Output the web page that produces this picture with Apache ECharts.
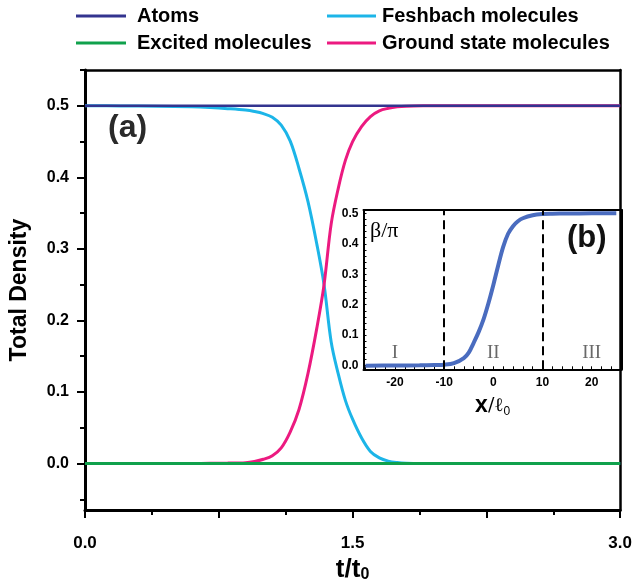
<!DOCTYPE html>
<html>
<head>
<meta charset="utf-8">
<script src="https://cdn.jsdelivr.net/npm/echarts@6/dist/echarts.min.js"></script>
<style>
html,body{margin:0;padding:0;background:#fff;}
#chart{width:635px;height:588px;}
</style>
</head>
<body>
<div id="chart"></div>
<script>
// ---- Main panel (a) data ----
var time      = [0, 0.2, 0.4, 0.6, 0.7, 0.8, 0.9, 0.95, 1.0, 1.05, 1.1, 1.15, 1.2, 1.25, 1.3, 1.34, 1.38, 1.42, 1.46, 1.5, 1.55, 1.6, 1.65, 1.7, 1.75, 1.8, 1.9, 2.0, 2.5, 3.0];
var atoms     = [0.5, 0.5, 0.5, 0.5, 0.5, 0.5, 0.5, 0.5, 0.5, 0.5, 0.5, 0.5, 0.5, 0.5, 0.5, 0.5, 0.5, 0.5, 0.5, 0.5, 0.5, 0.5, 0.5, 0.5, 0.5, 0.5, 0.5, 0.5, 0.5, 0.5];
var excited   = [0, 0, 0, 0, 0, 0, 0, 0, 0, 0, 0, 0, 0, 0, 0, 0, 0, 0, 0, 0, 0, 0, 0, 0, 0, 0, 0, 0, 0, 0];
var feshbach  = [0.5, 0.4998, 0.4995, 0.4985, 0.4975, 0.496, 0.494, 0.492, 0.489, 0.484, 0.473, 0.451, 0.412, 0.366, 0.306, 0.25, 0.17, 0.125, 0.088, 0.062, 0.036, 0.017, 0.008, 0.0035, 0.0015, 0.0006, 0.0001, 0, 0, 0];
var ground    = [0, 0, 0, 0.0002, 0.0004, 0.0007, 0.0013, 0.003, 0.006, 0.011, 0.022, 0.044, 0.076, 0.126, 0.19, 0.25, 0.335, 0.385, 0.424, 0.45, 0.471, 0.485, 0.493, 0.4965, 0.4985, 0.4994, 0.4999, 0.5, 0.5, 0.5];
var seriesNames = ['Atoms', 'Excited molecules', 'Feshbach molecules', 'Ground state molecules'];
var xLabelTicks = [0, 1.5, 3.0];
var yLabelTicks = [0, 0.1, 0.2, 0.3, 0.4, 0.5];
var yMinorTicks = [-0.05, 0.05, 0.15, 0.25, 0.35, 0.45, 0.55];

// ---- Inset panel (b) data ----
var insetX    = [-26, -20, -15, -12, -10, -8, -6, -5, -4, -3, -2, -1, 0, 1, 2, 3, 4, 5, 6, 8, 10, 12, 15, 20, 25];
var insetBeta = [0, 0.0004, 0.001, 0.002, 0.003, 0.008, 0.025, 0.043, 0.075, 0.11, 0.152, 0.205, 0.265, 0.33, 0.39, 0.433, 0.458, 0.474, 0.484, 0.494, 0.498, 0.499, 0.4995, 0.5, 0.5];
var insetXLabels = [-20, -10, 0, 10, 20];
var insetXTicks  = [-26, -24, -22, -20, -18, -16, -14, -12, -10, -8, -6, -4, -2, 0, 2, 4, 6, 8, 10, 12, 14, 16, 18, 20, 22, 24, 26];
var insetYLabels = [0, 0.1, 0.2, 0.3, 0.4, 0.5];
var insetYTicks  = [0, 0.02, 0.04, 0.06, 0.08, 0.1, 0.12, 0.14, 0.16, 0.18, 0.2, 0.22, 0.24, 0.26, 0.28, 0.3, 0.32, 0.34, 0.36, 0.38, 0.4, 0.42, 0.44, 0.46, 0.48, 0.5];
var regionBounds = [-10, 10];
var regionNames  = ['I', 'II', 'III'];
var regionX      = [-20, 0, 20];
var regionY      = [0.042, 0.042, 0.042];

function pairs(xs, ys) { return xs.map(function (x, i) { return [x, ys[i]]; }); }

var colors = { atoms: '#33348f', excited: '#10a14c', feshbach: '#1cb5e8', ground: '#ec1a80', inset: '#4a6cbf' };
var FONT = 'Liberation Sans, Arial, sans-serif';

var chart = echarts.init(document.getElementById('chart'), null, { renderer: 'canvas' });

function frameAxis(grid, pos, w) {
  return { gridIndex: grid, type: 'value', position: pos, axisLine: { show: true, onZero: false, lineStyle: { color: '#000', width: w } },
           axisTick: { show: false }, axisLabel: { show: false }, splitLine: { show: false } };
}

var option = {
  backgroundColor: '#fff',
  animation: false,
  textStyle: { fontFamily: FONT },
  legend: [
    { data: [seriesNames[0], seriesNames[1]], left: 76, top: 6, orient: 'vertical', padding: 0, itemGap: 7,
      icon: 'rect', itemWidth: 50, itemHeight: 3,
      textStyle: { fontSize: 20, fontWeight: 'bold', color: '#000', fontFamily: FONT, lineHeight: 20, padding: [0, 0, 0, 6] } },
    { data: [seriesNames[2], seriesNames[3]], left: 327, top: 6, orient: 'vertical', padding: 0, itemGap: 7,
      icon: 'rect', itemWidth: 49, itemHeight: 3,
      textStyle: { fontSize: 20, fontWeight: 'bold', color: '#000', fontFamily: FONT, lineHeight: 20, padding: [0, 0, 0, 1] } }
  ],
  grid: [
    { left: 84, right: 8, top: 70, bottom: 68 },
    { left: 363.5, right: 13.3, top: 210, bottom: 218.7 }
  ],
  xAxis: [
    { gridIndex: 0, type: 'value', min: 0, max: 3, interval: 0.75, position: 'bottom',
      axisLine: { show: true, onZero: false, lineStyle: { color: '#000', width: 3 } },
      axisTick: { show: true, length: 8, lineStyle: { color: '#000', width: 2 } },
      minorTick: { show: true, splitNumber: 2, length: 5, lineStyle: { color: '#000', width: 2 } },
      axisLabel: { customValues: xLabelTicks, margin: 25, fontSize: 17, fontWeight: 'bold', color: '#000', fontFamily: FONT,
                   formatter: function (v) { return v.toFixed(1); } },
      splitLine: { show: false },
      name: '{b|t/t}{s|0}', nameLocation: 'middle', nameGap: 45,
      nameTextStyle: { rich: { b: { fontSize: 26, fontWeight: 'bold', color: '#000', fontFamily: FONT },
                               s: { fontSize: 16, fontWeight: 'bold', color: '#000', fontFamily: FONT, verticalAlign: 'bottom', padding: [10, 0, 0, 0] } } } },
    frameAxis(0, 'top', 2.5),
    { gridIndex: 1, type: 'value', min: -26.4, max: 26.1, position: 'bottom',
      axisLine: { show: true, onZero: false, lineStyle: { color: '#000', width: 2 } },
      axisTick: { show: true, inside: true, length: 3, customValues: insetXTicks, lineStyle: { color: '#000', width: 1 } },
      axisLabel: { customValues: insetXLabels, margin: 7, fontSize: 12, fontWeight: 'bold', color: '#000', fontFamily: FONT },
      splitLine: { show: false },
      name: '{x|x}{r|/ℓ}{s|0}', nameLocation: 'middle', nameGap: 25,
      nameTextStyle: { rich: { x: { fontSize: 23, fontWeight: 'bold', color: '#000', fontFamily: FONT },
                               r: { fontSize: 19, color: '#000', fontFamily: 'DejaVu Serif, serif' },
                               s: { fontSize: 12, color: '#000', fontFamily: FONT, verticalAlign: 'bottom', padding: [8, 0, 0, 0] } } } },
    frameAxis(1, 'top', 2)
  ],
  yAxis: [
    { gridIndex: 0, type: 'value', min: -0.065, max: 0.55, position: 'left',
      axisLine: { show: true, onZero: false, lineStyle: { color: '#000', width: 3 } },
      axisTick: { show: true, length: 8, customValues: yLabelTicks, lineStyle: { color: '#000', width: 2 } },
      axisLabel: { customValues: yLabelTicks, margin: 16, fontSize: 16, fontWeight: 'bold', color: '#000', fontFamily: FONT,
                   formatter: function (v) { return v.toFixed(1); } },
      splitLine: { show: false },
      name: 'Total Density', nameLocation: 'middle', nameGap: 54,
      nameTextStyle: { fontSize: 23, fontWeight: 'bold', color: '#000', fontFamily: FONT } },
    { gridIndex: 0, type: 'value', min: -0.065, max: 0.55, position: 'left',
      axisLine: { show: false },
      axisTick: { show: true, length: 5, customValues: yMinorTicks, lineStyle: { color: '#000', width: 2 } },
      axisLabel: { show: false }, splitLine: { show: false } },
    frameAxis(0, 'right', 2.5),
    { gridIndex: 1, type: 'value', min: -0.012, max: 0.511, position: 'left',
      axisLine: { show: true, onZero: false, lineStyle: { color: '#000', width: 2 } },
      axisTick: { show: true, inside: true, length: 3, customValues: insetYTicks, lineStyle: { color: '#000', width: 1 } },
      axisLabel: { customValues: insetYLabels, margin: 5, fontSize: 12, fontWeight: 'bold', color: '#000', fontFamily: FONT,
                   formatter: function (v) { return v.toFixed(1); } },
      splitLine: { show: false } },
    frameAxis(1, 'right', 2)
  ],
  graphic: [
    { type: 'text', left: 108, top: 112, style: { text: '(a)', font: 'bold 32px ' + FONT, fill: '#2a2a2a' } },
    { type: 'text', left: 567, top: 223, style: { text: '(b)', font: 'bold 31px ' + FONT, fill: '#111' } },
    { type: 'text', left: 370, top: 220, style: { text: 'β/π', font: '22px Liberation Serif, serif', fill: '#000' } }
  ],
  series: [
    { name: seriesNames[2], type: 'line', xAxisIndex: 0, yAxisIndex: 0, data: pairs(time, feshbach), symbol: 'none',
      smooth: 0.35, lineStyle: { color: colors.feshbach, width: 3 }, itemStyle: { color: colors.feshbach } },
    { name: seriesNames[3], type: 'line', xAxisIndex: 0, yAxisIndex: 0, data: pairs(time, ground), symbol: 'none',
      smooth: 0.35, lineStyle: { color: colors.ground, width: 3 }, itemStyle: { color: colors.ground } },
    { name: seriesNames[0], type: 'line', xAxisIndex: 0, yAxisIndex: 0, data: pairs(time, atoms), symbol: 'none',
      lineStyle: { color: colors.atoms, width: 2.5 }, itemStyle: { color: colors.atoms } },
    { name: seriesNames[1], type: 'line', xAxisIndex: 0, yAxisIndex: 0, data: pairs(time, excited), symbol: 'none',
      lineStyle: { color: colors.excited, width: 3 }, itemStyle: { color: colors.excited } },
    { name: 'beta', type: 'line', xAxisIndex: 2, yAxisIndex: 3, data: pairs(insetX, insetBeta), symbol: 'none',
      smooth: 0.35, lineStyle: { color: colors.inset, width: 4 }, itemStyle: { color: colors.inset },
      markLine: { silent: true, symbol: 'none', label: { show: false },
                  lineStyle: { color: '#000', width: 2, type: [9, 5] },
                  data: regionBounds.map(function (v) { return { xAxis: v }; }) } },
    { name: 'regions', type: 'scatter', xAxisIndex: 2, yAxisIndex: 3, data: pairs(regionX, regionY), symbolSize: 0,
      label: { show: true, position: 'inside', formatter: function (p) { return regionNames[p.dataIndex]; },
               fontSize: 19, fontFamily: 'Liberation Serif, Times New Roman, serif', color: '#444' } }
  ]
};
chart.setOption(option);
</script>
</body>
</html>
